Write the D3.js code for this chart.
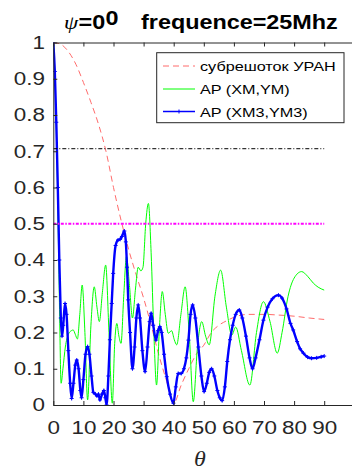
<!DOCTYPE html>
<html>
<head>
<meta charset="utf-8">
<script src="https://d3js.org/d3.v7.min.js"></script>
<style>
  body { margin: 0; background: #fff; }
  svg { display: block; font-family: "Liberation Sans", Arial, sans-serif; }
</style>
</head>
<body>
<svg id="chart" width="352" height="470"></svg>
<script>
// values (theta in degrees)
const xTicks = [0, 10, 20, 30, 40, 50, 60, 70, 80, 90];
const yTicks = [0, 0.1, 0.2, 0.3, 0.4, 0.5, 0.6, 0.7, 0.8, 0.9, 1];
const refLevels = [0.707, 0.5];

const legendLabels = ["субрешоток УРАН", "AP (XM,YM)", "AP (XM3,YM3)"];

const redX = [0, 2.5, 5, 7.5, 10, 12.5, 15, 17.5, 20, 22.5, 25, 27.5, 30, 32.5, 35, 37.5, 40,
  42.5, 45, 47.5, 50, 52.5, 55, 57.5, 60, 62.5, 65, 70, 75, 80, 85, 90];
const redY = [1, 0.995, 0.975, 0.94, 0.89, 0.835, 0.775, 0.7, 0.6, 0.51, 0.43, 0.36, 0.295, 0.22, 0.14, 0.07, 0.005,
  0.055, 0.1, 0.14, 0.165, 0.2, 0.22, 0.232, 0.242, 0.248, 0.25, 0.25, 0.248, 0.245, 0.24, 0.236];

const greenX = [0, 0.5, 1, 1.5, 2, 2.6, 3.2, 4, 5, 6, 6.6, 7.3, 8, 8.8, 9.6, 10.5, 11.4, 12.5, 13.6, 14.5,
  15.3, 16.3, 17.4, 18.5, 19.6, 20.4, 21.1, 21.8, 22.5, 23.4, 24.3, 25.3, 26.3, 27.3, 28.2, 29.1, 29.8,
  30.7, 31.6, 32.5, 33.4, 34.3, 35.3, 36.2, 37.2, 38.2, 39.3, 40.2, 41, 42.4, 43.8, 45.2, 46.5, 47.9,
  49.3, 50.6, 51.8, 53.7, 55.6, 57.5, 59.3, 60.6, 62.5, 65.3, 67.5, 69.8, 72, 74.4, 76, 78, 80, 82.5,
  84.5, 86.4, 88, 90];
const greenY = [1, 0.92, 0.76, 0.55, 0.3, 0.06, 0.1, 0.16, 0.195, 0.205, 0.207, 0.195, 0.182, 0.25, 0.331, 0.2, 0.014, 0.22, 0.326, 0.27,
  0.23, 0.31, 0.386, 0.2, 0.005, 0.17, 0.225, 0.19, 0.17, 0.3, 0.41, 0.33, 0.24, 0.32, 0.38, 0.37, 0.38,
  0.5, 0.556, 0.42, 0.2, 0.055, 0.22, 0.313, 0.25, 0.198, 0.205, 0.18, 0.166, 0.25, 0.326, 0.19, 0.009, 0.16,
  0.23, 0.19, 0.166, 0.3, 0.372, 0.27, 0.193, 0.215, 0.15, 0.055, 0.2, 0.285, 0.23, 0.143, 0.2, 0.3, 0.35, 0.368,
  0.355, 0.336, 0.325, 0.317];

const blueX = [0, 0.5, 1, 1.5, 2, 2.5, 2.9, 3.3, 3.9, 4.4, 5, 5.6, 6.1, 6.7, 7.3, 7.8, 8.4, 9, 9.4, 10,
  10.7, 11.4, 12, 12.7, 13.3, 14, 14.5, 15, 15.5, 16.2, 16.8, 17.3, 17.7, 18.3, 18.8, 19.4, 19.9, 20.7,
  21.5, 22.2, 22.8, 23.6, 24.1, 24.5, 24.9, 25.5, 26.3, 27, 27.6, 28.2, 28.8, 29.6, 30.5, 31.3, 32, 32.5,
  33.2, 34.1, 34.8, 35.4, 36, 36.8, 37.7, 38.8, 39.9, 40.7, 41.5, 42.5, 43.4, 44.2, 44.9, 45.6, 46.3,
  47.2, 48.2, 49.2, 50.1, 51, 51.8, 52.6, 53.5, 54.5, 55.3, 56.1, 57, 57.8, 58.7, 59.6, 60.6, 61.8, 62.8,
  64, 65.2, 66.2, 67.2, 68.5, 69.8, 71.2, 72.8, 74.8, 76, 77.5, 78.8, 79.7, 81, 82, 83.1, 84.5, 85.8,
  87.5, 89, 90];
const blueY = [1, 0.92, 0.78, 0.6, 0.4, 0.24, 0.19, 0.22, 0.28, 0.25, 0.15, 0.06, 0.018, 0.06, 0.11, 0.124, 0.1, 0.04, 0.02, 0.07,
  0.14, 0.161, 0.14, 0.08, 0.035, 0.03, 0.025, 0.03, 0.014, 0.03, 0.04, 0.02, 0, 0.08, 0.18, 0.28, 0.363, 0.44,
  0.455, 0.457, 0.465, 0.48, 0.45, 0.38, 0.29, 0.2, 0.1, 0.16, 0.24, 0.276, 0.24, 0.15, 0.092, 0.16, 0.23, 0.253,
  0.22, 0.179, 0.205, 0.216, 0.2, 0.14, 0.078, 0.03, 0.005, 0.05, 0.087, 0.087, 0.1, 0.13, 0.179, 0.25, 0.276,
  0.24, 0.16, 0.08, 0.037, 0.06, 0.09, 0.1, 0.08, 0.04, 0.02, 0.012, 0.05, 0.12, 0.18, 0.22, 0.25, 0.262, 0.24,
  0.19, 0.13, 0.1, 0.13, 0.18, 0.234, 0.27, 0.293, 0.303, 0.295, 0.265, 0.225, 0.207, 0.175, 0.155, 0.143, 0.132, 0.129,
  0.13, 0.133, 0.135];

const sx = 1.2; // the picture is a bit wider than tall, text is stretched the same way
const ink = "#262626";

const svg = d3.select("#chart");
const x = d3.scaleLinear().domain([0, 100]).range([53.3, 354.3]);
const y = d3.scaleLinear().domain([0, 1]).range([405, 42.5]);

svg.append("clipPath").attr("id", "plot-clip")
  .append("rect")
  .attr("x", x(0)).attr("y", y(1))
  .attr("width", x(100) - x(0)).attr("height", y(0) - y(1));

const line = d3.line()
  .x(d => x(d[0]))
  .y(d => y(d[1]))
  .curve(d3.curveMonotoneX);

const plot = svg.append("g").attr("clip-path", "url(#plot-clip)");

plot.append("path")
  .datum(d3.zip(redX, redY))
  .attr("d", line)
  .attr("fill", "none")
  .attr("stroke", "#ff6b6b")
  .attr("stroke-width", 1)
  .attr("stroke-dasharray", "6,4");

plot.append("path")
  .datum(d3.zip(greenX, greenY))
  .attr("d", line)
  .attr("fill", "none")
  .attr("stroke", "#00ff00")
  .attr("stroke-width", 1);

const blue = d3.zip(blueX, blueY);
plot.append("path")
  .datum(blue)
  .attr("d", line)
  .attr("fill", "none")
  .attr("stroke", "#0000ff")
  .attr("stroke-width", 2.4);

plot.append("g").selectAll("path")
  .data(blue)
  .join("path")
  .attr("d", d => `M${x(d[0]) - 2},${y(d[1])}h4M${x(d[0])},${y(d[1]) - 2}v4`)
  .attr("stroke", "#0000ff")
  .attr("stroke-width", 1);

// reference levels
plot.append("line")
  .attr("x1", x(0)).attr("x2", x(90))
  .attr("y1", y(refLevels[0])).attr("y2", y(refLevels[0]))
  .attr("stroke", "#000")
  .attr("stroke-width", 1)
  .attr("stroke-dasharray", "4,2,1,2");

plot.append("line")
  .attr("x1", x(0)).attr("x2", x(90))
  .attr("y1", y(refLevels[1])).attr("y2", y(refLevels[1]))
  .attr("stroke", "#ff00ff")
  .attr("stroke-width", 2)
  .attr("stroke-dasharray", "3,1.5,1.5,1.5");

// axes
const fmt = d => String(d);

svg.append("g")
  .attr("transform", `translate(0,${y(0)})`)
  .call(d3.axisBottom(x).tickValues(xTicks).tickFormat(fmt).tickSizeInner(-4).tickSizeOuter(0).tickPadding(16));

svg.append("g")
  .attr("transform", `translate(0,${y(1)})`)
  .call(d3.axisTop(x).tickValues(xTicks).tickFormat("").tickSizeInner(-4).tickSizeOuter(0));

svg.append("g")
  .attr("transform", `translate(${x(0)},0)`)
  .call(d3.axisLeft(y).tickValues(yTicks).tickFormat(fmt).tickSizeInner(-4).tickSizeOuter(0).tickPadding(7));

svg.selectAll(".domain").attr("stroke", ink);
svg.selectAll(".tick line").attr("stroke", ink);
svg.selectAll(".tick text")
  .attr("fill", ink)
  .attr("font-size", 18.7)
  .attr("font-family", "'Liberation Sans', Arial, sans-serif")
  .attr("transform", `scale(${sx},1)`);

// title
function stretched(px, py) {
  return `translate(${px},${py}) scale(${sx},1)`;
}
svg.append("text")
  .attr("transform", stretched(64, 29.3))
  .attr("font-family", "'Liberation Serif', 'DejaVu Serif', serif")
  .attr("font-style", "italic")
  .attr("font-size", 19)
  .attr("fill", "#000")
  .text("ψ");
svg.append("text")
  .attr("transform", stretched(78.5, 29.3))
  .attr("font-weight", "bold")
  .attr("font-size", 19.5)
  .attr("fill", "#000")
  .text("=0");
svg.append("text")
  .attr("transform", stretched(105.5, 25))
  .attr("font-weight", "bold")
  .attr("font-size", 19.5)
  .attr("fill", "#000")
  .text("0");
svg.append("text")
  .attr("transform", stretched(141, 29.3))
  .attr("font-weight", "bold")
  .attr("font-size", 19.5)
  .attr("fill", "#000")
  .text("frequence=25Mhz");

// x label
svg.append("text")
  .attr("transform", stretched(200, 466))
  .attr("text-anchor", "middle")
  .attr("font-family", "'Liberation Serif', 'DejaVu Serif', serif")
  .attr("font-style", "italic")
  .attr("font-size", 20)
  .attr("fill", ink)
  .text("θ");

// legend
const legend = svg.append("g");
legend.append("rect")
  .attr("x", 156.7).attr("y", 52.7)
  .attr("width", 187.3).attr("height", 70)
  .attr("fill", "#fff")
  .attr("stroke", ink)
  .attr("stroke-width", 1);

const rowY = [66, 89, 111.5];
const legendStyle = [
  { color: "#ff6b6b", width: 1, dash: "6,4" },
  { color: "#00ff00", width: 1, dash: null },
  { color: "#0000ff", width: 1.5, dash: null }
];
legendLabels.forEach((label, i) => {
  const st = legendStyle[i];
  legend.append("line")
    .attr("x1", 163).attr("x2", 195)
    .attr("y1", rowY[i]).attr("y2", rowY[i])
    .attr("stroke", st.color)
    .attr("stroke-width", st.width)
    .attr("stroke-dasharray", st.dash);
  legend.append("text")
    .attr("transform", stretched(200, rowY[i] + 5))
    .attr("font-size", 13.5)
    .attr("fill", "#000")
    .text(label);
});
legend.append("path")
  .attr("d", `M177,${rowY[2]}h4M179,${rowY[2] - 2}v4`)
  .attr("stroke", "#0000ff")
  .attr("stroke-width", 1);
</script>
</body>
</html>
